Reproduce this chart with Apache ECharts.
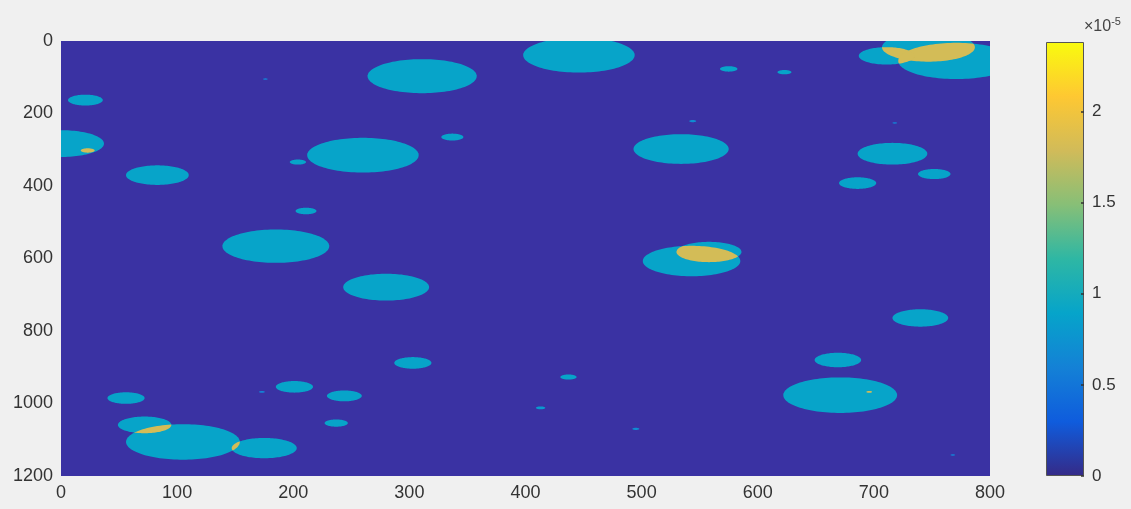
<!DOCTYPE html>
<html><head><meta charset="utf-8">
<script src="https://cdn.jsdelivr.net/npm/echarts@6/dist/echarts.min.js"></script>
<style>html,body{margin:0;padding:0;background:#f0f0f0}#c{width:1131px;height:509px}</style>
</head><body><div id="c"></div>
<script>
// ---- data ----
const xTicks = [0, 100, 200, 300, 400, 500, 600, 700, 800];
const yTicks = [0, 200, 400, 600, 800, 1000, 1200];
const cbTicks = [0, 0.5, 1, 1.5, 2];      // colorbar tick labels (x 1e-5)
const cbMax = 2.38;                      // colorbar top (x 1e-5)
// circles (data units: column, row, radius, value x1e-5)
const circleX = [21, 0, 23, 83, 185, 260, 311, 446, 280, 534, 543, 558, 716, 752, 686, 747, 771, 711, 669, 740, 671, 696, 303, 201, 244, 56, 237, 72, 105, 175, 173, 211, 204, 337, 575, 623, 437, 413, 495, 544, 176, 718, 768];
const circleY = [163, 283, 302, 370, 566, 315, 97, 39, 679, 298, 607, 582, 311, 367, 392, 17, 55, 41, 880, 764, 977, 968, 888, 954, 979, 985, 1054, 1059, 1106, 1123, 968, 469, 334, 265, 77, 86, 927, 1012, 1070, 221, 105, 226, 1142];
const circleR = [15, 37, 6, 27, 46, 48, 47, 48, 37, 41, 42, 28, 30, 14, 16, 40, 50, 24, 20, 24, 49, 2.5, 16, 16, 15, 16, 10, 23, 49, 28, 2.5, 9, 7, 9.5, 7.5, 6, 7, 4, 3, 3, 2, 2, 2];
const circleV = [0.9, 0.9, 0.9, 0.9, 0.9, 0.9, 0.9, 0.9, 0.9, 0.9, 0.9, 0.9, 0.9, 0.9, 0.9, 0.9, 0.9, 0.9, 0.9, 0.9, 0.9, 0.9, 0.9, 0.9, 0.9, 0.9, 0.9, 0.9, 0.9, 0.9, 0.6, 0.9, 0.9, 0.9, 0.9, 0.9, 0.9, 0.8, 0.7, 0.7, 0.6, 0.6, 0.6];

// ---- styles ----
const parula = ['#352a87', '#0f5cdd', '#1481d6', '#06a4ca', '#2eb7a4', '#87bf77', '#d1bb59', '#fec832', '#f9fb0e'];
const FONT = "'Liberation Sans', Arial, sans-serif";

const circleData = circleX.map((x, i) => [x, circleY[i], circleR[i], circleV[i]]);
const overlapData = [];
for (let i = 0; i < circleX.length; i++) {
  for (let j = i + 1; j < circleX.length; j++) {
    const d = Math.hypot(circleX[i] - circleX[j], circleY[i] - circleY[j]);
    if (d < circleR[i] + circleR[j]) {
      overlapData.push([circleX[i], circleY[i], circleR[i], circleV[i] + circleV[j], circleX[j], circleY[j], circleR[j]]);
    }
  }
}

function ellipsePts(api, x, y, r) {
  const pts = [];
  const n = 120;
  for (let k = 0; k < n; k++) {
    const t = 2 * Math.PI * k / n;
    pts.push(api.coord([x + r * Math.cos(t), y + r * Math.sin(t)]));
  }
  return pts;
}

const chart = echarts.init(document.getElementById('c'));
const axisLbl = { fontSize: 18, color: '#333', fontFamily: FONT, margin: 8, formatter: v => String(v) };
chart.setOption({
  backgroundColor: '#f0f0f0',
  animation: false,
  textStyle: { fontFamily: FONT },
  grid: [
    { left: 61, top: 41, width: 929, height: 435, show: true, backgroundColor: '#3a32a3', borderWidth: 0 },
    { left: 1046, top: 42, width: 38, height: 434 }
  ],
  xAxis: [
    { type: 'value', gridIndex: 0, min: xTicks[0], max: xTicks[xTicks.length - 1], interval: xTicks[1] - xTicks[0],
      axisLine: { show: false }, axisTick: { show: false }, splitLine: { show: false }, axisLabel: axisLbl },
    { type: 'category', gridIndex: 1, data: [''], show: false }
  ],
  yAxis: [
    { type: 'value', gridIndex: 0, inverse: true, min: yTicks[0], max: yTicks[yTicks.length - 1], interval: yTicks[1] - yTicks[0],
      axisLine: { show: false }, axisTick: { show: false }, splitLine: { show: false }, axisLabel: axisLbl },
    { type: 'value', gridIndex: 1, position: 'right', min: cbTicks[0], max: cbMax, interval: cbTicks[1] - cbTicks[0], z: 5,
      axisLine: { show: false }, splitLine: { show: false },
      axisTick: { show: true, inside: true, length: 3, lineStyle: { color: '#333', width: 1.5 } },
      axisLabel: { fontSize: 17, color: '#333', fontFamily: FONT, margin: 8, showMaxLabel: false,
        formatter: v => cbTicks.indexOf(+v.toFixed(2)) >= 0 ? String(+v.toFixed(2)) : '' },
      name: '{a|×10}{b|-5}', nameLocation: 'end', nameGap: 5,
      nameTextStyle: { align: 'left', padding: [0, 0, 0, 0],
        rich: { a: { fontSize: 16, color: '#444', fontFamily: FONT }, b: { fontSize: 11, color: '#444', fontFamily: FONT, padding: [0, 0, 10, 0] } } }
    }
  ],
  visualMap: [{ type: 'continuous', show: false, seriesIndex: [0, 1], dimension: 3, min: 0, max: cbMax, inRange: { color: parula } }],
  series: [
    { type: 'custom', xAxisIndex: 0, yAxisIndex: 0, clip: true, silent: true,
      data: circleData, encode: { x: 0, y: 1 },
      renderItem: (params, api) => ({
        type: 'polygon',
        shape: { points: ellipsePts(api, api.value(0), api.value(1), api.value(2)) },
        style: { fill: api.visual('color') }
      }) },
    { type: 'custom', xAxisIndex: 0, yAxisIndex: 0, clip: true, silent: true, z: 3,
      data: overlapData, encode: { x: 0, y: 1 },
      renderItem: (params, api) => ({
        type: 'polygon',
        shape: { points: ellipsePts(api, api.value(0), api.value(1), api.value(2)) },
        clipPath: { type: 'polygon', shape: { points: ellipsePts(api, api.value(4), api.value(5), api.value(6)) } },
        style: { fill: api.visual('color') }
      }) },
    { type: 'bar', xAxisIndex: 1, yAxisIndex: 1, silent: true, barWidth: '100%', data: [cbMax],
      itemStyle: { borderColor: '#555', borderWidth: 1,
        color: new echarts.graphic.LinearGradient(0, 1, 0, 0, parula.map((c, i) => ({ offset: i / (parula.length - 1), color: c }))) } }
  ]
});
</script>
</body></html>
